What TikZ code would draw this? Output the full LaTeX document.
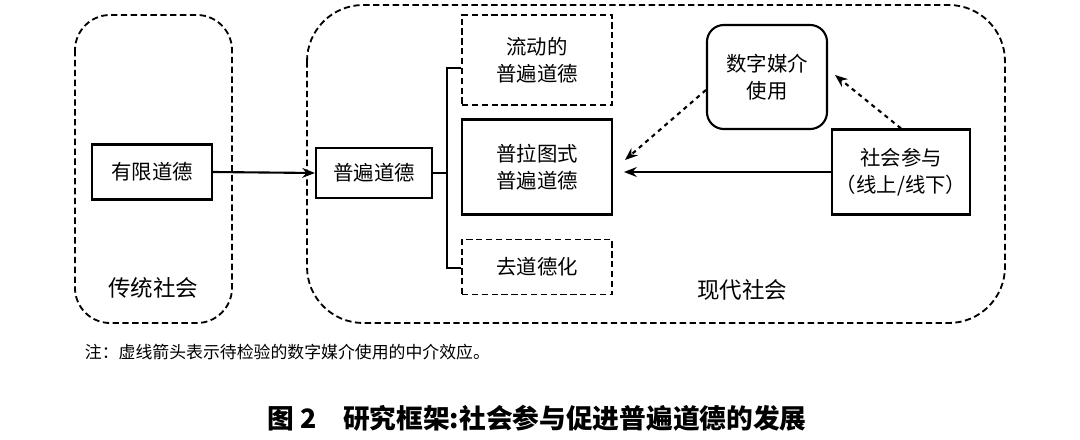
\documentclass[tikz,border=0pt]{standalone}
\usepackage{fontspec}
\setmainfont{Noto Sans CJK SC}
\usetikzlibrary{arrows.meta}
\begin{document}
\begin{tikzpicture}[x=0.025cm,y=-0.025cm,
  dbox/.style={draw,dashed,line width=1.3pt,dash pattern=on 4.5pt off 2.5pt},
  sbox/.style={draw,line width=1.5pt},
  lbl/.style={font=\fontsize{14.5}{19}\selectfont,align=center,inner sep=1pt},
  arr/.style={-{Stealth[length=9pt,width=7pt]},line width=1.5pt}]
\useasboundingbox (0,0) rectangle (1080,440);
\draw[dbox,rounded corners=25] (75,15) rectangle (232,323);
\draw[dbox,rounded corners=40] (307,5) rectangle (1005,323);
\node[sbox,minimum width=3cm,minimum height=1.375cm,lbl] (a) at (152,172) {有限道德};
\node[sbox,minimum width=2.9cm,minimum height=1.25cm,lbl] (b) at (374,173) {普遍道德};
\node[dbox,minimum width=3.75cm,minimum height=2.25cm,lbl] (c) at (537,60) {流动的\\普遍道德};
\node[sbox,line width=1.8pt,minimum width=3.75cm,minimum height=2.375cm,lbl] (d) at (537,167) {普拉图式\\普遍道德};
\node[dbox,minimum width=3.75cm,minimum height=1.375cm,lbl] (e) at (537,267) {去道德化};
\node[sbox,rounded corners=12,minimum width=3cm,minimum height=2.6cm,lbl] (f) at (767,77) {数字媒介\\使用};
\node[sbox,minimum width=3.45cm,minimum height=2.125cm,lbl] (g) at (901,172) {社会参与\\（线上/线下）};
\node[lbl,font=\fontsize{16}{19}\selectfont] (t1) at (153,288) {传统社会};
\node[lbl,font=\fontsize{16}{19}\selectfont] (t2) at (742,290) {现代社会};
\coordinate (bt) at (447,68); \coordinate (bb) at (447,268);
\coordinate (bm) at (447,173);
\draw[line width=1.2pt] (c.west|-bt) -- (bt) -- (bb) -- (e.west|-bb);
\draw[line width=1.2pt] (b.east) -- (bm);
\draw[arr] (a.east) -- (b.west);
\coordinate (dt) at (624,172);
\draw[arr] (g.west) -- (dt);
\draw[arr,dashed] (f.west|-0,90) -- (625,160);
\draw[arr,dashed] (g.north) -- (835,75);
\node[anchor=west,font=\fontsize{12}{14}\selectfont] (n) at (80,352) {注：虚线箭头表示待检验的数字媒介使用的中介效应。};
\node[font=\fontsize{19}{22}\selectfont\bfseries] (cap) at (537,418) {图 2\quad 研究框架:社会参与促进普遍道德的发展};
\end{tikzpicture}
\end{document}
